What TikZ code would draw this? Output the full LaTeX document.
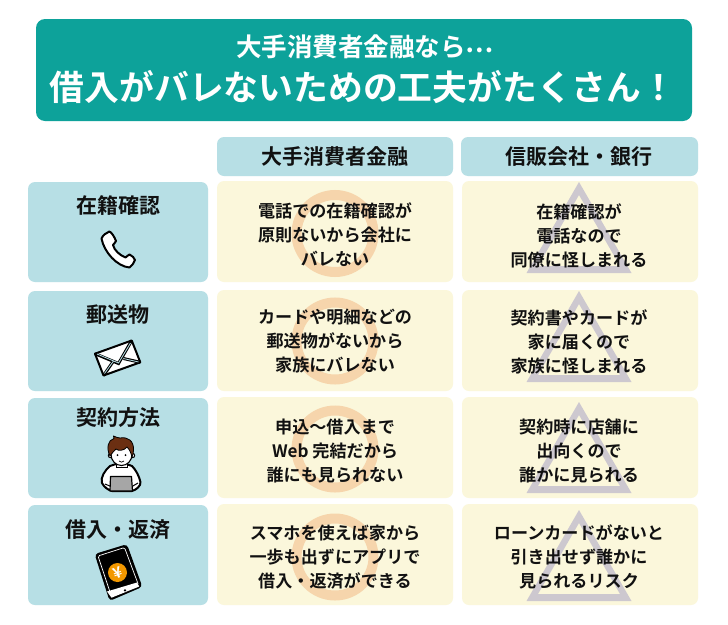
\documentclass[tikz,border=0pt]{standalone}
\usepackage{fontspec}
\setmainfont{Noto Sans CJK JP}[BoldFont={* Bold}]
\definecolor{teal1}{HTML}{0DA29A}
\definecolor{blue1}{HTML}{B7DFE5}
\definecolor{cream}{HTML}{FBF7DB}
\definecolor{circ}{HTML}{F6D5AC}
\definecolor{tri}{HTML}{CDC8CF}
\definecolor{ink}{HTML}{111111}
\definecolor{hair}{HTML}{6B2F12}
\definecolor{yen}{HTML}{F39800}
\tikzset{
 px/.style={x=1pt,y=-1pt},
 box/.style={rounded corners=7pt,draw=none},
 lab/.style={font=\bfseries\fontsize{21}{21}\selectfont,text=ink,inner sep=0},
 body/.style={font=\fontsize{17.1}{24}\selectfont\bfseries,text=ink,align=center,inner sep=0},
 icon/.style={draw=black,line width=2pt,fill=white,line join=round},
}
\begin{document}
\begin{tikzpicture}[px]
\useasboundingbox (0,0) rectangle (728,624);
\fill[white] (0,0) rectangle (728,624);
\fill[teal1,rounded corners=9pt] (36,19) rectangle (692,121);
\node[inner sep=0,text=white,font=\bfseries\fontsize{25.5}{25.5}\selectfont] (t1) at (365,47) {大手消費者金融なら\raisebox{4.5pt}{…}};
\node[inner sep=0,text=white,font=\bfseries\fontsize{34.8}{34.8}\selectfont] (t2) at (363,87) {借入がバレないための工夫がたくさん！};
\fill[blue1,box] (217,137) rectangle (453,176);
\fill[blue1,box] (461,137) rectangle (698,176);
\node[lab] (h1) at (335,156.5) {大手消費者金融};
\node[lab] (h2) at (579,156.5) {信販会社・銀行};
\foreach \top/\cy/\ta in {182/233.5/182,291/341/291,398/449/402,505/557/510}{
 \fill[blue1,box] (28,\top) rectangle (208,\top+100);
 \fill[cream,box] (217,\top-1) rectangle (453,\top+100);
 \fill[cream,box] (462,\top-1) rectangle (698,\top+100);
 \draw[circ,line width=10pt] (335,\cy) circle (38.5);
 \fill[tri,even odd rule] (579,\ta) -- (526.5,\ta+91) -- (631.5,\ta+91) -- cycle
   (579,\ta+13) -- (538,\ta+84) -- (620,\ta+84) -- cycle;
}
\node[lab] (l1) at (118,206) {在籍確認};
\node[lab] (l2) at (118,315) {郵送物};
\node[lab] (l3) at (118,418) {契約方法};
\node[lab] (l4) at (118,530) {借入・返済};
\node[body] (c11) at (335,235) {電話での在籍確認が\\原則ないから会社に\\バレない};
\node[body] (c12) at (579,235.5) {在籍確認が\\電話なので\\同僚に怪しまれる};
\node[body] (c21) at (335,341) {カードや明細などの\\郵送物がないから\\家族にバレない};
\node[body] (c22) at (579,342) {契約書やカードが\\家に届くので\\家族に怪しまれる};
\node[body] (c31) at (335,451) {申込～借入まで\\Web 完結だから\\誰にも見られない};
\node[body] (c32) at (579,451) {契約時に店舗に\\出向くので\\誰かに見られる};
\node[body] (c41) at (335,557) {スマホを使えば家から\\一歩も出ずにアプリで\\借入・返済ができる};
\node[body] (c42) at (579,557) {ローンカードがないと\\引き出せず誰かに\\見られるリスク};
% phone
\draw[icon] (101.5,238.5) .. controls (103,235) and (106,233) .. (109.3,231.5)
 .. controls (111.5,232) and (114.5,237) .. (116,241) .. controls (116,243) and (113,243.5) .. (113,245)
 .. controls (114,250) and (120,255.5) .. (125.5,257.5) .. controls (127,257) and (128,254.5) .. (129.5,254.5)
 .. controls (132,255.5) and (134.5,258) .. (135,260) .. controls (134,263) and (132,265.5) .. (129.5,267.5)
 .. controls (117,266.5) and (104,252) .. (101.5,238.5) -- cycle;
% envelope
\draw[icon] (95,353.7) -- (131.7,340.5) -- (140.3,362.3) -- (103.5,375.5) -- cycle;
\draw[black,line width=3pt] (95,353.7) -- (118.5,363.5) -- (131.7,340.5);
\draw[black,line width=3pt] (103.5,375.5) -- (113.5,361);
\draw[black,line width=3pt] (123.5,358.5) -- (140.3,362.3);
\draw[blue1,line width=0.8pt] (97,354) -- (118.5,363) -- (130.5,343);
\draw[blue1,line width=0.8pt] (104.5,373.5) -- (113.5,361);
\draw[blue1,line width=0.8pt] (123.5,358.5) -- (138.5,362);
% person
\draw[icon] (110,466) .. controls (105,470) and (100,478) .. (102,483) .. controls (104,487) and (108,490) .. (112,491) -- (132,491)
  .. controls (136,490) and (141,486) .. (140.5,482) .. controls (139,476) and (136,470) .. (132,466) .. controls (125,463) and (116,463) .. (110,466) -- cycle;
\draw[black,line width=1pt] (105,484) -- (111,486.5) (138,483) -- (132,486.5);
\draw[icon,line width=1.2pt,fill=black!35] (110.5,476.5) -- (131.5,476.5) -- (132.5,491) -- (110,491) -- cycle;
\fill[white,draw=black,line width=1pt] (110.5,455.5) circle (2.2) (132.5,455.5) circle (2.2);
\fill[white,draw=black,line width=1pt] (116,462) rectangle (127,467);
\fill[white,draw=black,line width=1.1pt] (121.5,454.5) ellipse (10.5 and 11);
\fill[hair,draw=black,line width=0.8pt,line join=round] (110,456) .. controls (106,448) and (108,440) .. (114,438.5) -- (113.5,436) .. controls (116,437) and (118,438) .. (120,438)
  .. controls (128,436.5) and (134,441) .. (133.5,450) .. controls (133.5,453) and (133,455) .. (132,457) .. controls (131,453) and (130,450) .. (127,447) .. controls (124,451) and (118,451) .. (116,449) .. controls (114,451) and (112,453) .. (110,456) -- cycle;
\fill[black] (117.5,455) circle (1) (125.5,455) circle (1);
\draw[black,line width=0.7pt] (119,461) .. controls (120.5,462.5) and (122.5,462.5) .. (124,461);
% smartphone
\draw[black,line width=1.4pt,fill=black,rounded corners=3pt] (95.5,554.5) -- (126.5,545) -- (141.5,586.5) -- (110,600) -- cycle;
\draw[white,line width=0.7pt,rounded corners=1.5pt] (98,556) -- (124.5,547.5) -- (138.5,585) -- (111.5,596.5) -- cycle;
\fill[white] (107,591.5) -- (137,582.5) -- (139.2,586.5) -- (111.5,597.7) -- cycle;
\fill[black] (125,590.3) circle (1.3);
\fill[yen] (117.5,572.5) circle (9.5);
\node[inner sep=0,text=white,font=\bfseries\fontsize{15}{15}\selectfont,rotate=20] (yenmark) at (117.5,572.5) {¥};
\end{tikzpicture}
\end{document}
